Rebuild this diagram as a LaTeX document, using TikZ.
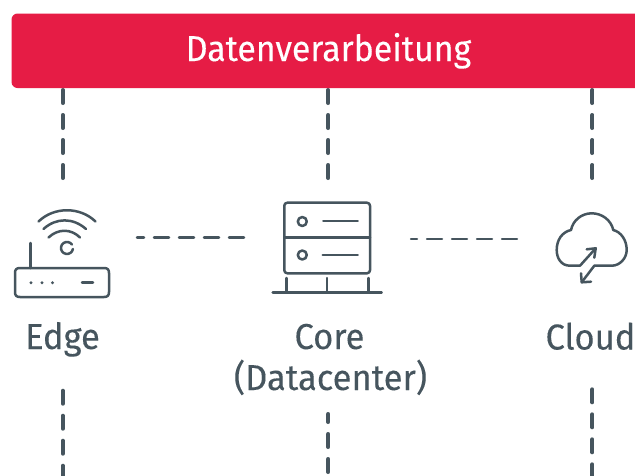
\documentclass[tikz,border=0pt]{standalone}
\usepackage{fontspec}
\setmainfont[FakeStretch=0.96,FakeBold=0.15]{Fira Sans}
\newfontfamily\bannerfont[FakeStretch=0.94,FakeBold=0.2]{Fira Sans}
\definecolor{bannerred}{HTML}{E61C45}
\definecolor{slate}{HTML}{46555E}
\tikzset{
  x=1pt,y=-1pt,
  vdash/.style={draw=slate,line width=4pt,line cap=round,dash pattern=on 13pt off 12pt},
  hdash/.style={draw=slate,line width=2.5pt,line cap=round,dash pattern=on 15pt off 10pt},
  icon/.style={draw=slate,line width=2.5pt,line cap=round,line join=round},
  label/.style={text=slate,font=\fontsize{36}{36}\selectfont,anchor=base,inner sep=0pt},
  banner/.style={fill=bannerred,rounded corners=6pt,draw=none},
  bannertext/.style={text=white,font=\bannerfont\fontsize{36}{36}\selectfont,anchor=base,inner sep=0pt}
}
\begin{document}
\begin{tikzpicture}
\useasboundingbox (0,0) rectangle (635,475);
\fill[white] (0,0) rectangle (635,475);
% connector ends
\coordinate (ta) at (62.8,90);  \coordinate (tb) at (62.8,178);
\coordinate (tc) at (328.3,90); \coordinate (td) at (328.3,178);
\coordinate (te) at (592.4,90); \coordinate (tf) at (592.4,178);
\coordinate (ba) at (62.8,390.7);  \coordinate (bb) at (62.8,478);
\coordinate (bc) at (328.3,414);   \coordinate (bd) at (328.3,478);
\coordinate (be) at (592.3,389.3); \coordinate (bf) at (592.3,478);
\coordinate (ha) at (137,237.3); \coordinate (hb) at (244,237.3);
\coordinate (hc) at (411,239);   \coordinate (hd) at (518,239);
\draw[vdash] (ta) -- (tb);
\draw[vdash] (tc) -- (td);
\draw[vdash] (te) -- (tf);
\draw[vdash] (ba) -- (bb);
\draw[vdash,dash phase=5pt] (bc) -- (bd);
\draw[vdash] (be) -- (bf);
\draw[hdash,dash phase=8pt] (ha) -- (hb);
\draw[hdash,dash phase=9pt] (hc) -- (hd);
% banner
\path[banner] (11.5,13.5) rectangle (650,88);
\node[bannertext] (bannerlabel) at (328.5,61) {Datenverarbeitung};
% router
\draw[icon] (15,273) .. controls (15,269.5) and (16.5,268) .. (20,268) -- (104,268)
  .. controls (107.5,268) and (109,269.5) .. (109,273) -- (109,292)
  .. controls (109,295.5) and (107.5,297) .. (104,297) -- (20,297)
  .. controls (16.5,297) and (15,295.5) .. (15,292) -- cycle;
\draw[icon] (30.3,243) -- (30.3,268);
\fill[slate] (31,282.7) circle (1.6) (42,282.7) circle (1.6) (52.5,282.7) circle (1.6);
\draw[icon] (72.9,249) arc (10:325:6);
\draw[icon] (82,282.7) -- (93,282.7);
\draw[icon] (48.5,237.5) .. controls (58,228.5) and (71,228.5) .. (80,237.5);
\draw[icon] (43.5,229) .. controls (56,217.5) and (73,217.5) .. (86,229);
\draw[icon] (38.5,221.5) .. controls (54,206.5) and (80,206.5) .. (95.5,221.5);
% server
\draw[icon,rounded corners=3pt] (284.3,202.7) rectangle (370,273.3);
\draw[icon] (284.3,237.7) -- (370,237.7);
\draw[icon] (302.3,221.5) circle (4.5);
\draw[icon] (302.3,255) circle (4.5);
\draw[icon] (323.3,221) -- (357.7,221);
\draw[icon] (322.7,255) -- (357.7,255);
\draw[icon] (286.7,278) -- (286.7,292.7);
\draw[icon] (327,278) -- (327,292.7);
\draw[icon] (368.3,278) -- (368.3,292.7);
\draw[icon] (272.7,292.7) -- (381.7,292.7);
% cloud
\draw[icon] (595.7,248.3) -- (580,265.7) -- (570,265.7)
  .. controls (561,265.7) and (556.7,258) .. (556.7,250)
  .. controls (556.7,240) and (562,232) .. (571,230)
  .. controls (573,220) and (582,213.3) .. (591.7,213.3)
  .. controls (602,213.3) and (611,220) .. (613.3,230)
  .. controls (621,232) and (626.7,240) .. (626.7,250)
  .. controls (626.7,258) and (620,265.7) .. (611.7,265.7)
  -- (594.3,265.7) -- (581.7,282.3);
\draw[icon] (586.7,249.3) -- (595.7,248.3) -- (594.3,257.7);
\draw[icon] (581,273.3) -- (581.7,282.3) -- (591,281.7);
% labels
\node[label] (edgelabel) at (62.5,349) {Edge};
\node[label] (corelabel) at (329.5,349) {Core};
\node[label] (dclabel) at (330.5,390) {(Datacenter)};
\node[label] (cloudlabel) at (590.5,349.5) {Cloud};
\end{tikzpicture}
\end{document}
